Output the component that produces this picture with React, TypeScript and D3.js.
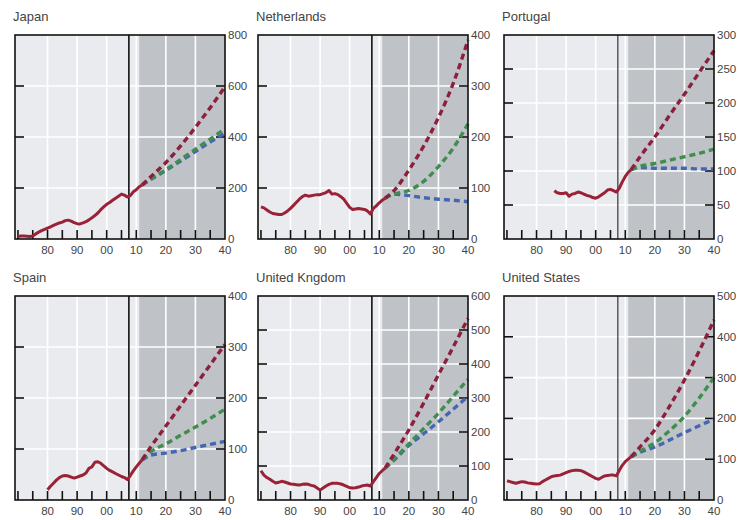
import React from "react";
import * as d3 from "d3";

type Pt = [number, number];

const countries = ["Japan", "Netherlands", "Portugal", "Spain", "United Kngdom", "United States"];
const yMax = [800, 400, 300, 400, 600, 500];
const yStep = [200, 100, 50, 100, 100, 100];

const projYears = [2012, 2015, 2020, 2025, 2030, 2035, 2040];

const japanHist: Pt[] = [
  [1970, 10], [1971, 12], [1972, 12], [1973, 11], [1974, 10], [1975, 12], [1976, 20], [1977, 27], [1978, 33],
  [1979, 38], [1980, 43], [1981, 48], [1982, 53], [1983, 58], [1984, 63], [1985, 66], [1986, 72], [1987, 74],
  [1988, 70], [1989, 64], [1990, 60], [1991, 59], [1992, 63], [1993, 68], [1994, 75], [1995, 83], [1996, 92],
  [1997, 102], [1998, 115], [1999, 126], [2000, 136], [2001, 143], [2002, 152], [2003, 160], [2004, 168],
  [2005, 176], [2006, 172], [2007, 165], [2008, 170], [2009, 185], [2010, 193], [2011, 205], [2012, 212],
];
const japanRed = [212, 245, 300, 365, 438, 515, 597];
const japanGreen = [212, 236, 272, 312, 352, 392, 432];
const japanBlue = [212, 234, 269, 306, 343, 380, 415];

const netherlandsHist: Pt[] = [
  [1970, 63], [1971, 61], [1972, 57], [1973, 53], [1974, 50], [1975, 49], [1976, 48], [1977, 48], [1978, 51],
  [1979, 55], [1980, 60], [1981, 66], [1982, 72], [1983, 78], [1984, 83], [1985, 86], [1986, 84], [1987, 85],
  [1988, 86], [1989, 87], [1990, 87], [1991, 89], [1992, 91], [1993, 95], [1994, 88], [1995, 89], [1996, 87],
  [1997, 83], [1998, 78], [1999, 70], [2000, 62], [2001, 58], [2002, 59], [2003, 60], [2004, 59], [2005, 58],
  [2006, 55], [2007, 49], [2008, 60], [2009, 65], [2010, 71], [2011, 76], [2012, 80],
];
const netherlandsRed = [80, 95, 135, 182, 238, 305, 390];
const netherlandsGreen = [80, 88, 95, 113, 142, 178, 226];
const netherlandsBlue = [80, 88, 85, 81, 78, 76, 73];

const portugalHist: Pt[] = [
  [1986, 71], [1987, 68], [1988, 67], [1989, 67], [1990, 68], [1991, 63], [1992, 66], [1993, 67], [1994, 69],
  [1995, 68], [1996, 66], [1997, 64], [1998, 63], [1999, 61], [2000, 60], [2001, 62], [2002, 65], [2003, 68],
  [2004, 72], [2005, 73], [2006, 71], [2007, 69], [2008, 75], [2009, 84], [2010, 92], [2011, 98], [2012, 102],
];
const portugalRed = [102, 121, 150, 182, 213, 245, 277];
const portugalGreen = [102, 107, 111, 116, 121, 126, 132];
const portugalBlue = [102, 105, 104, 104, 104, 103, 103];

const spainHist: Pt[] = [
  [1980, 20], [1981, 27], [1982, 33], [1983, 39], [1984, 44], [1985, 47], [1986, 48], [1987, 47], [1988, 45],
  [1989, 43], [1990, 45], [1991, 47], [1992, 49], [1993, 53], [1994, 62], [1995, 65], [1996, 74], [1997, 75],
  [1998, 72], [1999, 67], [2000, 62], [2001, 58], [2002, 55], [2003, 52], [2004, 49], [2005, 46], [2006, 44],
  [2007, 40], [2008, 48], [2009, 57], [2010, 65], [2011, 72], [2012, 79],
];
const spainRed = [79, 105, 145, 185, 225, 265, 305];
const spainGreen = [79, 95, 110, 127, 143, 160, 178];
const spainBlue = [79, 88, 92, 97, 103, 109, 115];

const ukHist: Pt[] = [
  [1970, 86], [1971, 73], [1972, 66], [1973, 61], [1974, 55], [1975, 50], [1976, 52], [1977, 55], [1978, 53],
  [1979, 50], [1980, 47], [1981, 46], [1982, 45], [1983, 44], [1984, 46], [1985, 47], [1986, 46], [1987, 43],
  [1988, 41], [1989, 35], [1990, 29], [1991, 35], [1992, 41], [1993, 46], [1994, 49], [1995, 49], [1996, 49],
  [1997, 47], [1998, 44], [1999, 40], [2000, 36], [2001, 35], [2002, 36], [2003, 38], [2004, 41], [2005, 43],
  [2006, 44], [2007, 41], [2008, 54], [2009, 66], [2010, 78], [2011, 86], [2012, 94],
];
const ukRed = [94, 135, 206, 285, 368, 450, 534];
const ukGreen = [94, 120, 165, 210, 255, 305, 355];
const ukBlue = [94, 117, 160, 195, 230, 267, 305];

const usHist: Pt[] = [
  [1970, 47], [1971, 45], [1972, 43], [1973, 41], [1974, 43], [1975, 45], [1976, 44], [1977, 42], [1978, 41],
  [1979, 40], [1980, 39], [1981, 40], [1982, 45], [1983, 49], [1984, 53], [1985, 57], [1986, 59], [1987, 60],
  [1988, 61], [1989, 64], [1990, 67], [1991, 70], [1992, 72], [1993, 73], [1994, 73], [1995, 72], [1996, 69],
  [1997, 65], [1998, 61], [1999, 57], [2000, 53], [2001, 51], [2002, 55], [2003, 59], [2004, 60], [2005, 61],
  [2006, 61], [2007, 59], [2008, 73], [2009, 85], [2010, 94], [2011, 100], [2012, 106],
];
const usRed = [106, 130, 172, 230, 294, 365, 441];
const usGreen = [106, 120, 140, 170, 205, 250, 300];
const usBlue = [106, 117, 130, 147, 165, 182, 198];

const hists = [japanHist, netherlandsHist, portugalHist, spainHist, ukHist, usHist];
const reds = [japanRed, netherlandsRed, portugalRed, spainRed, ukRed, usRed];
const greens = [japanGreen, netherlandsGreen, portugalGreen, spainGreen, ukGreen, usGreen];
const blues = [japanBlue, netherlandsBlue, portugalBlue, spainBlue, ukBlue, usBlue];

const xTickLabels = ["80", "90", "00", "10", "20", "30", "40"];
const xLabelYears = [1980, 1990, 2000, 2010, 2020, 2030, 2040];
const minorTickYears = d3.range(1970, 2040, 5);
const gridYears = [1980, 1990, 2000, 2010, 2020, 2030];

const breakYear = 2007.5;
const shadeStart = 2011;

const colLeft = [15, 258, 504];
const rowTop = [35, 296];
const PW = 210;
const PH = 204;

const histColor = "#9a2236";
const redColor = "#8e1f3c";
const greenColor = "#3f8e4f";
const blueColor = "#4566b3";
const font = "Arial, 'Liberation Sans', sans-serif";

function Panel({ i }: { i: number }) {
  const left = colLeft[i % 3];
  const top = rowTop[Math.floor(i / 3)];
  const x = d3.scaleLinear().domain([1969, 2040]).range([0, PW]);
  const y = d3.scaleLinear().domain([0, yMax[i]]).range([PH, 0]);
  const yTicks = d3.range(0, yMax[i] + 0.001, yStep[i]);
  const histLine = d3.line<Pt>().x((d) => x(d[0])).y((d) => y(d[1]));
  const projLine = d3
    .line<number>()
    .x((_, k) => x(projYears[k]))
    .y((d) => y(d))
    .curve(d3.curveMonotoneX);
  const thinBreak = i % 3 === 2;
  return (
    <g transform={`translate(${left},${top})`}>
      <text x={-2} y={-14} fontFamily={font} fontSize={13} fill="#444">
        {countries[i]}
      </text>
      <rect x={0} y={0} width={PW} height={PH} fill="#eaebef" />
      <rect x={x(shadeStart)} y={0} width={PW - x(shadeStart)} height={PH} fill="#bfc2c7" />
      {yTicks.slice(1, -1).map((t) => (
        <line key={"hy" + t} x1={0} x2={PW} y1={y(t)} y2={y(t)} stroke="#fff" strokeWidth={1.6} />
      ))}
      {gridYears.map((g) => (
        <line key={"gx" + g} x1={x(g)} x2={x(g)} y1={0} y2={PH} stroke="#fff" strokeWidth={1.6} />
      ))}
      <line x1={x(breakYear)} x2={x(breakYear)} y1={0} y2={PH} stroke="#111" strokeWidth={thinBreak ? 1 : 1.6} />
      {minorTickYears.map((t) => (
        <line key={"mt" + t} x1={x(t)} x2={x(t)} y1={PH} y2={PH - 9} stroke="#111" strokeWidth={1.6} />
      ))}
      {yTicks.slice(1, -1).map((t) => (
        <g key={"yt" + t}>
          <line x1={0} x2={9} y1={y(t)} y2={y(t)} stroke="#111" strokeWidth={1.6} />
          <line x1={PW - 9} x2={PW} y1={y(t)} y2={y(t)} stroke="#111" strokeWidth={1.6} />
        </g>
      ))}
      <path d={projLine(blues[i]) || ""} fill="none" stroke={blueColor} strokeWidth={3.4} strokeDasharray="6,4" />
      <path d={projLine(greens[i]) || ""} fill="none" stroke={greenColor} strokeWidth={3.4} strokeDasharray="6,4" />
      <path d={projLine(reds[i]) || ""} fill="none" stroke={redColor} strokeWidth={3.4} strokeDasharray="6,4" />
      <path d={histLine(hists[i]) || ""} fill="none" stroke={histColor} strokeWidth={3} strokeLinejoin="round" />
      <rect x={0} y={0} width={PW} height={PH} fill="none" stroke="#111" strokeWidth={1.6} />
      {xLabelYears.map((yr, k) => (
        <text key={"xl" + yr} x={x(yr)} y={PH + 15} textAnchor="middle" fontFamily={font} fontSize={11.5} fill="#444">
          {xTickLabels[k]}
        </text>
      ))}
      {yTicks.map((t) => (
        <text key={"yl" + t} x={PW + 3} y={y(t) + 4} fontFamily={font} fontSize={11.5} fill="#444">
          {t}
        </text>
      ))}
    </g>
  );
}

export default function App() {
  return (
    <svg width={740} height={520} style={{ position: "absolute", left: 0, top: 0, background: "#fff" }}>
      <rect width={740} height={520} fill="#fff" />
      {countries.map((_, i) => (
        <Panel key={i} i={i} />
      ))}
    </svg>
  );
}
